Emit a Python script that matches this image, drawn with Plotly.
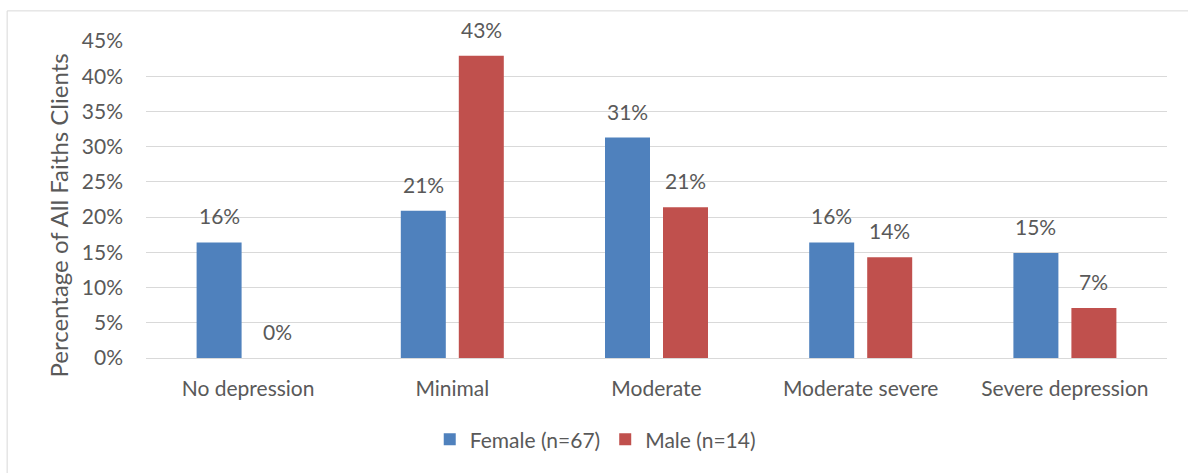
import plotly.graph_objects as go

categories = ["No depression", "Minimal", "Moderate", "Moderate severe", "Severe depression"]
female = [16.4, 20.9, 31.3, 16.4, 14.9]
male = [0.0, 42.9, 21.4, 14.3, 7.1]
series_names = ["Female (n=67)", "Male (n=14)"]
series_colors = ["#4F81BD", "#C0504D"]
tick_vals = [0, 5, 10, 15, 20, 25, 30, 35, 40, 45]
tick_text = [f"{v}%" for v in tick_vals]
y_title = "Percentage of All Faiths Clients"

font_family = "Lato, 'Open Sans', sans-serif"
text_color = "#595959"
fsize = 21
bargap = 0.432
bargroupgap = 0.224

fig = go.Figure()
series = [female, male]
for name, vals, color in zip(series_names, series, series_colors):
    fig.add_trace(go.Bar(
        x=categories, y=vals, name=name,
        marker=dict(color=color, line=dict(width=0)),
    ))

# value labels placed above each bar, offset to its slot in the group
slot = (1 - bargap) / 2
annotations = []
for si, vals in enumerate(series):
    offset = (si - 0.5) * slot
    for ci, v in enumerate(vals):
        annotations.append(dict(
            x=ci + offset, y=v, xref="x", yref="y",
            text=f"{round(v):.0f}%", showarrow=False,
            yanchor="bottom", yshift=12,
            font=dict(size=fsize, color=text_color, family=font_family),
        ))

# vertical axis title
annotations.append(dict(
    x=-0.086, y=0.45, xref="paper", yref="paper", xanchor="center", yanchor="middle",
    text=y_title, textangle=-90, showarrow=False,
    font=dict(size=24, color=text_color, family=font_family),
))

fig.update_layout(
    width=1188, height=473,
    margin=dict(l=146, r=21, t=41, b=115, autoexpand=False),
    paper_bgcolor="white", plot_bgcolor="white",
    barmode="group", bargap=bargap, bargroupgap=bargroupgap,
    font=dict(family=font_family, size=fsize, color=text_color),
    showlegend=True,
    legend=dict(orientation="h", x=0.44, xanchor="center", y=-0.193, yanchor="top",
                font=dict(size=fsize, color=text_color), traceorder="normal",
                itemwidth=30),
    xaxis=dict(showline=True, linecolor="#D9D9D9", linewidth=1, ticks="",
               ticklabelstandoff=12,
               tickfont=dict(size=fsize, color=text_color)),
    yaxis=dict(range=[0, 45], tickvals=tick_vals, ticktext=tick_text,
               showgrid=True, gridcolor="#D9D9D9", gridwidth=1, zeroline=False,
               tickfont=dict(size=fsize, color=text_color), ticks="",
               ticklabelstandoff=22),
    annotations=annotations,
    shapes=[dict(type="rect", xref="paper", yref="paper", x0=-0.136,
                 y0=-0.5, x1=1.05, y1=1.095,
                 line=dict(color="#D9D9D9", width=1), fillcolor="rgba(0,0,0,0)", layer="below")],
)

fig.write_html("out.html")
